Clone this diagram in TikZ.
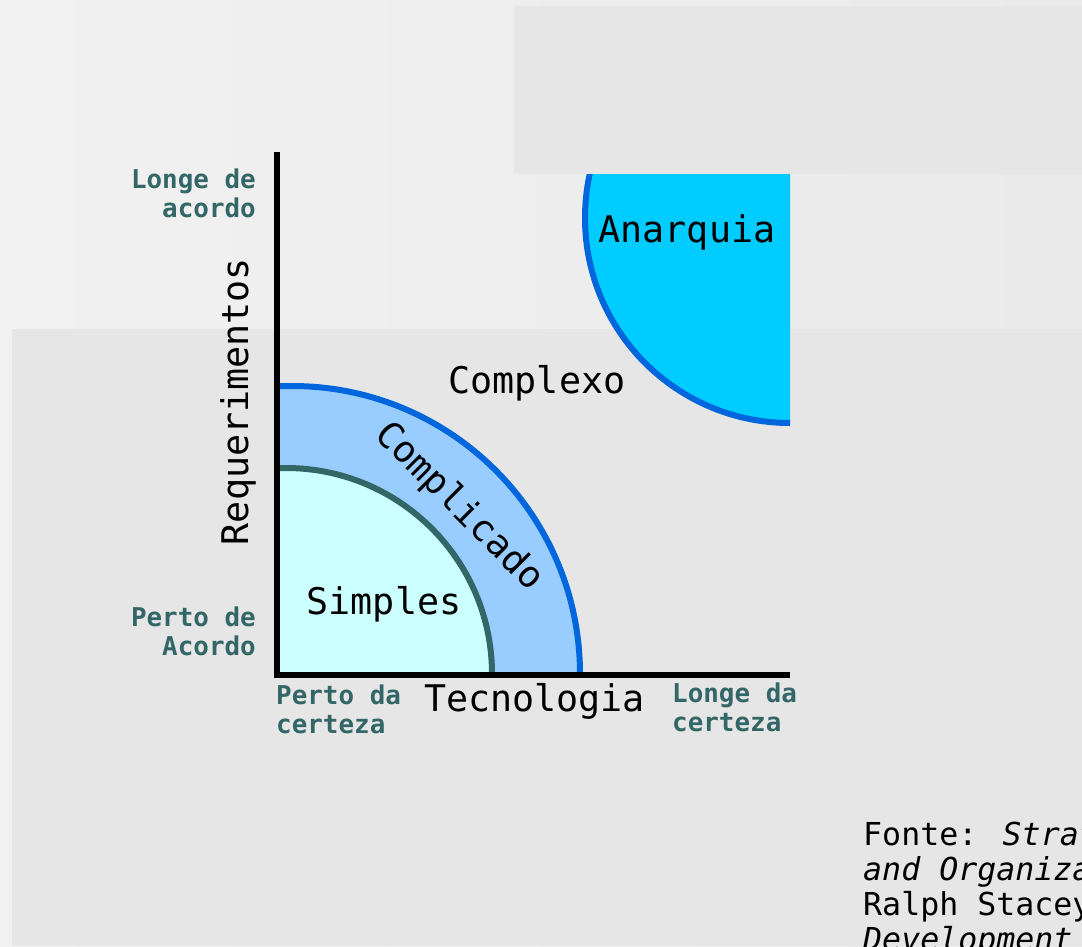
\documentclass[tikz,border=0pt]{standalone}
\usepackage{fontspec}
\setmainfont{DejaVu Sans Mono}
\usetikzlibrary{positioning}

\definecolor{fundoclaro}{HTML}{F1F1F1}
\definecolor{fundo}{HTML}{EAEAEA}
\definecolor{painel}{HTML}{E6E6E6}
\definecolor{borda}{HTML}{0066DD}
\definecolor{complicado}{HTML}{99CCFF}
\definecolor{simples}{HTML}{CCFFFF}
\definecolor{anarquia}{HTML}{00CCFF}
\definecolor{verde}{HTML}{336666}

\tikzset{
  rotulo/.style={inner sep=0pt, font=\fontsize{36.7}{44}\selectfont},
  extremo/.style={inner sep=0pt, text=verde, font=\bfseries\fontsize{25.9}{29}\selectfont},
  fonte/.style={inner sep=0pt, anchor=base west, font=\fontsize{31.6}{35}\selectfont},
  zona/.style={draw=borda, line width=6pt},
}

\begin{document}
\begin{tikzpicture}[x=1pt, y=-1pt]
  \useasboundingbox (0,0) rectangle (1082,946);
  % fundo do slide
  \shade[left color=fundoclaro, right color=fundo] (0,0) rectangle (1082,946);
  \fill[painel] (514,6) rectangle (1082,174);
  \fill[painel] (12,329) rectangle (1082,946);

  % zonas
  \begin{scope}
    \clip (276,0) rectangle (790,675);
    \filldraw[zona, fill=complicado] (292,674) circle (288pt);
    \filldraw[zona, draw=verde, fill=simples] (286,674) circle (206pt);
  \end{scope}
  \begin{scope}
    \clip (400,174) rectangle (790,500);
    \filldraw[zona, fill=anarquia] (790,218) circle (205pt);
  \end{scope}

  % eixos
  \coordinate (topo) at (276.5,152);
  \coordinate (origem) at (276.5,675);
  \coordinate (fim) at (790,675);
  \draw[line width=6pt] (topo) -- (origem) -- (fim);

  \node[rotulo] (anarq) at (687,232) {Anarquia};
  \node[rotulo] (complexo) at (537,383) {Complexo};
  \node[rotulo, rotate=-45] (complic) at (459,507) {Complicado};
  \node[rotulo] (simpl) at (384,604) {Simples};
  \node[rotulo] (tecno) at (534.5,701) {Tecnologia};
  \node[rotulo, rotate=90] (req) at (238,401.5) {Requerimentos};

  \node[extremo, align=right, anchor=east] (longe acordo) at (256,193) {Longe de\\acordo};
  \node[extremo, align=right, anchor=east] (perto acordo) at (256,631) {Perto de\\Acordo};
  \node[extremo, align=left, anchor=west] (perto certeza) at (276,709) {Perto da\\certeza};
  \node[extremo, align=left, anchor=west] (longe certeza) at (672,707) {Longe da\\certeza};

  % fonte (cortada na borda)
  \begin{scope}
    \clip (0,0) rectangle (1082,946);
    \node[fonte] (fonte1) at (863,845.7) {Fonte: \textit{Strat}};
    \node[fonte] (fonte2) at (863,880.5) {\textit{and Organiza}};
    \node[fonte] (fonte3) at (863,915.3) {Ralph Stacey};
    \node[fonte] (fonte4) at (863,950.5) {\textit{Development}};
  \end{scope}
\end{tikzpicture}
\end{document}
